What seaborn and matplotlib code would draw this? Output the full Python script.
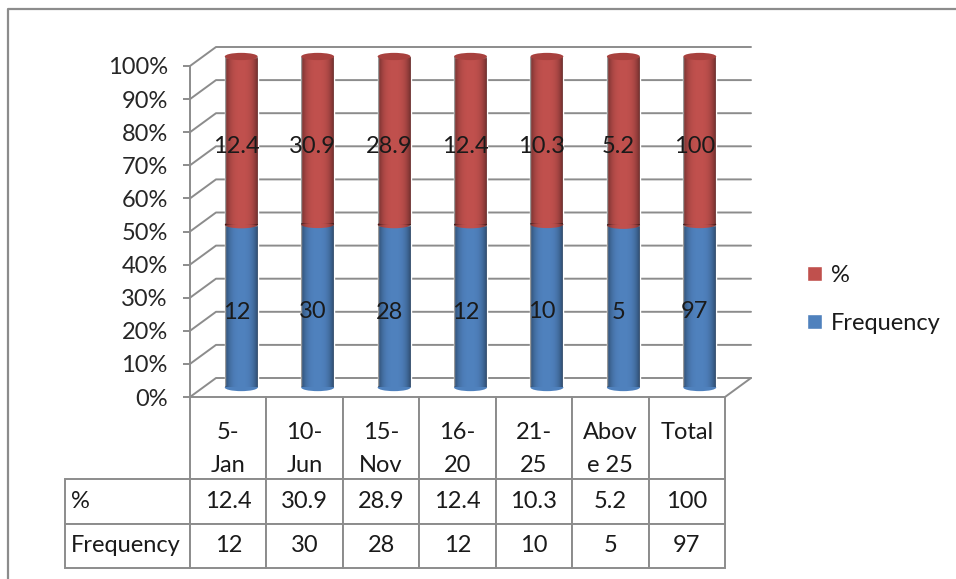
import numpy as np
import matplotlib
matplotlib.use('Agg')
import matplotlib.pyplot as plt
import seaborn as sns
from matplotlib.lines import Line2D
from matplotlib.patches import Ellipse, Patch

categories = ['5-\nJan', '10-\nJun', '15-\nNov', '16-\n20', '21-\n25', 'Abov\ne 25', 'Total']
percent = [12.4, 30.9, 28.9, 12.4, 10.3, 5.2, 100]
frequency = [12, 30, 28, 12, 10, 5, 97]
percent_labels = ['12.4', '30.9', '28.9', '12.4', '10.3', '5.2', '100']
frequency_labels = ['12', '30', '28', '12', '10', '5', '97']
y_ticks = [0, 10, 20, 30, 40, 50, 60, 70, 80, 90, 100]

W, H = 956, 579
RED = '#C0504D'
BLUE = '#4F81BD'
GRID = '#8C8C8C'
FONT = 17


def px_axes(fig, left, top, right, bottom):
    """Axes placed by pixel box, y counted from the top of the picture."""
    return fig.add_axes([left / W, 1 - bottom / H, (right - left) / W, (bottom - top) / H])


def shade(ax, x, y, w, h, clip=None):
    # darkens the sides of a bar so it reads as a cylinder
    t = np.linspace(-1, 1, 64)
    rgba = np.zeros((1, 64, 4))
    rgba[..., 3] = 0.42 * np.abs(t) ** 3
    im = ax.imshow(rgba, extent=[x, x + w, y, y + h], aspect='auto', zorder=4, interpolation='bilinear')
    if clip is not None:
        im.set_clip_path(clip)


sns.set_theme(style='white')
plt.rcParams['font.family'] = ['Lato', 'DejaVu Sans']
plt.rcParams['text.color'] = '#1A1A1A'

fig = plt.figure(figsize=(W / 100, H / 100), dpi=100)
fig.add_artist(Line2D([8 / W, 8 / W, 1], [0, 1 - 9 / H, 1 - 9 / H], color=GRID, lw=1.6))

# front plane carries the axis, walls are drawn a fixed depth behind it
ax = px_axes(fig, 190, 66, 725, 397)
ax.set_xlim(-0.5, 6.5)
ax.set_ylim(0, 100)
dx, dy = 26 / 535 * 7, 19 / 331 * 100
for v in y_ticks:
    ax.plot([-0.5, -0.5 + dx, 6.5 + dx], [v, v + dy, v + dy], color=GRID, lw=1.4, clip_on=False)
ax.plot([6.5, 6.5 + dx], [0, dy], color=GRID, lw=1.4, clip_on=False)
ax.set_xticks([])
ax.set_yticks(y_ticks)
ax.set_yticklabels([f'{v}%' for v in y_ticks], fontsize=FONT)
ax.tick_params(axis='y', left=True, length=5, width=1.4, color=GRID, pad=11)
for name, spine in ax.spines.items():
    spine.set_visible(name == 'left')
    spine.set_color(GRID)
    spine.set_linewidth(1.4)

# bars stand half way between the front plane and the back wall
ax_bars = px_axes(fig, 203, 56.5, 738, 387.5)
ax_bars.patch.set_alpha(0)
totals = np.array(percent) + np.array(frequency)
freq_share = np.array(frequency) / totals * 100
pct_share = np.array(percent) / totals * 100
sns.barplot(x=categories, y=freq_share, color=BLUE, saturation=1, width=0.43, ax=ax_bars, zorder=3)
sns.barplot(x=categories, y=pct_share, bottom=freq_share, color=RED, saturation=1, width=0.43, ax=ax_bars, zorder=3)
ax_bars.axis('off')

cap = 2.2
n = len(categories)
blue_bars, red_bars = ax_bars.patches[:n], ax_bars.patches[n:]
for bar in blue_bars + red_bars:
    shade(ax_bars, bar.get_x(), bar.get_y(), bar.get_width(), bar.get_height())
for bar, top_bar, f_label, p_label in zip(blue_bars, red_bars, frequency_labels, percent_labels):
    x, y, w, h = bar.get_x(), bar.get_y(), bar.get_width(), bar.get_height()
    cx = x + w / 2
    # rounded foot, only its lower half sticks out of the bar
    foot = Ellipse((cx, y), w, cap, fc=BLUE, ec='none', zorder=3, clip_on=False)
    ax_bars.add_patch(foot)
    shade(ax_bars, x, y - cap / 2, w, cap / 2, clip=foot)
    # red overlaps blue with a curved seam
    ax_bars.add_patch(Ellipse((cx, y + h), w, cap, fc=RED, ec='none', zorder=3.5))
    # lid
    top = top_bar.get_y() + top_bar.get_height()
    ax_bars.add_patch(Ellipse((cx, top), w, cap, fc='#A8413E', ec='none', zorder=5, clip_on=False))
    ax_bars.annotate(f_label, (cx, y + h / 2), xytext=(-3.6, -4.3), textcoords='offset points',
                     ha='center', va='center', fontsize=FONT, zorder=6)
    ax_bars.annotate(p_label, (cx, top_bar.get_y() + top_bar.get_height() / 2), xytext=(-3.6, -4.3),
                     textcoords='offset points', ha='center', va='center', fontsize=FONT, zorder=6)
ax_bars.set_xlim(-0.5, 6.5)
ax_bars.set_ylim(0, 100)

# data table under the plot
ax_table = px_axes(fig, 65, 397, 725, 568)
ax_table.axis('off')
col_w = [125 / 660] + [535 / 7 / 660] * 7
cells = [[''] * 8,
         ['%'] + percent_labels,
         ['Frequency'] + frequency_labels]
table = ax_table.table(cellText=cells, colWidths=col_w, cellLoc='center', bbox=[0, 0, 1, 1])
table.auto_set_font_size(False)
table.set_fontsize(FONT)
row_h = [82 / 171, 45 / 171, 44 / 171]
for (r, c), cell in table.get_celld().items():
    cell.set_height(row_h[r])
    cell.set_edgecolor(GRID)
    cell.set_linewidth(1.4)
    if c == 0:
        cell.PAD = 0.05
        cell.get_text().set_ha('left')
table[0, 0].visible_edges = ''
# category names hang from the top of their cells
for i, label in enumerate(categories):
    ax_table.text((125 + (i + 0.5) * 535 / 7) / 660, 1 - 25 / 171, label, transform=ax_table.transAxes,
                  ha='center', va='top', fontsize=FONT, linespacing=1.7)

handles = [Patch(facecolor=RED, label='%'), Patch(facecolor=BLUE, label='Frequency')]
fig.legend(handles=handles, loc='upper left', bbox_to_anchor=(788 / W, 1 - 246 / H), frameon=False, fontsize=FONT,
           handlelength=0.62, handleheight=0.62, handletextpad=0.38, labelspacing=1.15, borderpad=0.3)

fig.savefig('out.png', dpi=100)
